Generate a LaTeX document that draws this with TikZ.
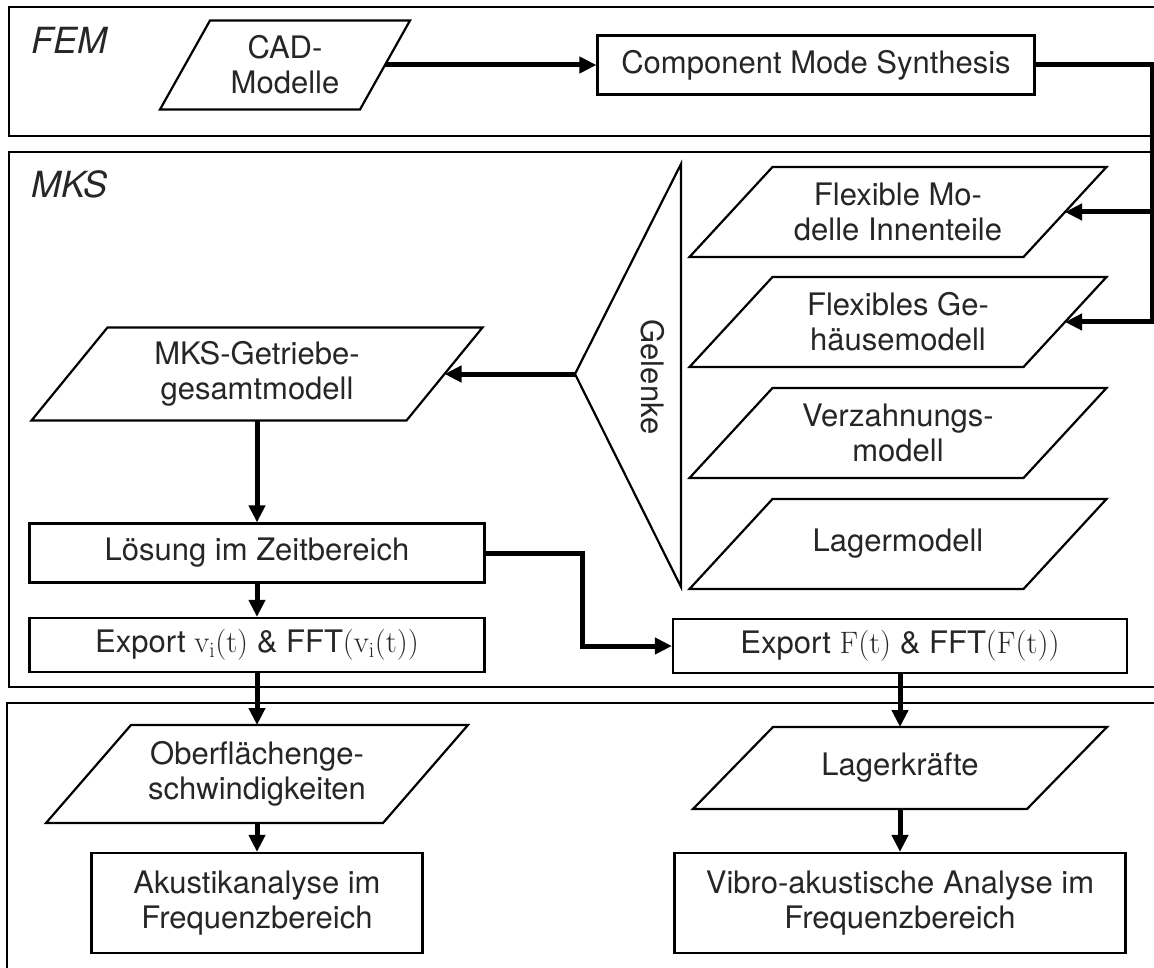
\RequirePackage{fix-cm}
\documentclass[tikz,border=0pt]{standalone}
\usepackage[no-math]{fontspec}
\setmainfont{TeX Gyre Heros}
\usepackage{tikz}
\usetikzlibrary{arrows.meta}

\begin{document}
\begin{tikzpicture}[x=1pt, y=-1pt,
    font=\fontsize{31}{35}\selectfont, text=black!85,
    frame/.style={draw, line width=2.2pt},
    block/.style={draw, line width=2.2pt, align=center, inner sep=0pt},
    iobox/.style={align=center, inner sep=0pt, outer sep=0pt,
      append after command={\pgfextra{\draw[line width=2.2pt]
        ([xshift=-#1]\tikzlastnode.south west) -- ([xshift=-#1]\tikzlastnode.south east) --
        ([xshift=#1]\tikzlastnode.north east) -- ([xshift=#1]\tikzlastnode.north west) -- cycle;}}},
    flow/.style={line width=5pt, -{Triangle[length=17pt, width=16pt]}},
    title/.style={anchor=west, font=\fontsize{36}{40}\selectfont\itshape}]
  \useasboundingbox (0,0) rectangle (1154,968);

  % groups
  \draw[frame] (9,7) rectangle (1175,136);
  \draw[frame] (9,152) rectangle (1175,687);
  \draw[frame] (7,703) rectangle (1175,990);
  \node[title] (fem) at (28,40) {FEM};
  \node[title] (mks) at (28,184) {MKS};

  % FEM
  \node[iobox=25pt, minimum width=200pt, minimum height=89pt] (cad) at (285,65) {CAD-\\Modelle};
  \node[block, minimum width=437pt, minimum height=59pt] (cms) at (816,65) {Component Mode Synthesis};

  % MKS
  \node[iobox=41.5pt, minimum width=334pt, minimum height=90pt] (flexin) at (898,212) {Flexible Mo-\\delle Innenteile};
  \node[iobox=41.5pt, minimum width=334pt, minimum height=90pt] (flexgeh) at (898,322) {Flexibles Ge-\\häusemodell};
  \node[iobox=41.5pt, minimum width=334pt, minimum height=90pt] (verz) at (898,433) {Verzahnungs-\\modell};
  \node[iobox=41.5pt, minimum width=334pt, minimum height=90pt] (lagermod) at (898,544) {Lagermodell};

  \coordinate (gtop) at (681,164);
  \coordinate (gbot) at (681,587);
  \coordinate (gtip) at (575,374);
  \draw[line width=2.2pt] (gtop) -- (gbot) -- (gtip) -- cycle;
  \node[rotate=-90] (gelenke) at (653,377) {Gelenke};

  \node[iobox=38pt, minimum width=375pt, minimum height=93pt] (mksmodell) at (257,374) {MKS-Getriebe-\\gesamtmodell};
  \node[block, minimum width=455pt, minimum height=59pt] (loesung) at (257,553) {Lösung im Zeitbereich};
  \node[block, minimum width=455pt, minimum height=54pt] (exportv) at (257,645) {Export $\mathrm{v_i(t)}$ \& FFT$\mathrm{(v_i(t))}$};
  \node[block, minimum width=454pt, minimum height=54pt] (exportf) at (900,646) {Export $\mathrm{F(t)}$ \& FFT$\mathrm{(F(t))}$};

  % Akustik
  \node[iobox=42.5pt, minimum width=337pt, minimum height=98pt] (oberfl) at (257,774) {Oberflächenge-\\schwindigkeiten};
  \node[block, minimum width=331pt, minimum height=100pt] (akustik) at (257,903) {Akustikanalyse im\\Frequenzbereich};
  \node[iobox=40pt, minimum width=334pt, minimum height=82pt] (lagerkr) at (900,768) {Lagerkräfte};
  \node[block, minimum width=451pt, minimum height=100pt] (vibro) at (900,903) {Vibro-akustische Analyse im\\Frequenzbereich};

  \coordinate (bus) at (1152,65);
  \draw[flow] (cad) -- (cms);
  \draw[flow] (cms.east) -- (bus) |- (flexin.east);
  \draw[flow] (bus) |- (flexgeh.east);
  \draw[flow] (gtip) -- (mksmodell.east);
  \draw[flow] (mksmodell) -- (loesung);
  \draw[flow] (loesung) -- (exportv);
  \draw[flow] (loesung.east) -- ++(97,0) |- (exportf.west);
  \draw[flow] (exportv) -- (oberfl);
  \draw[flow] (oberfl) -- (akustik);
  \draw[flow] (exportf) -- (lagerkr);
  \draw[flow] (lagerkr) -- (vibro);
\end{tikzpicture}
\end{document}
